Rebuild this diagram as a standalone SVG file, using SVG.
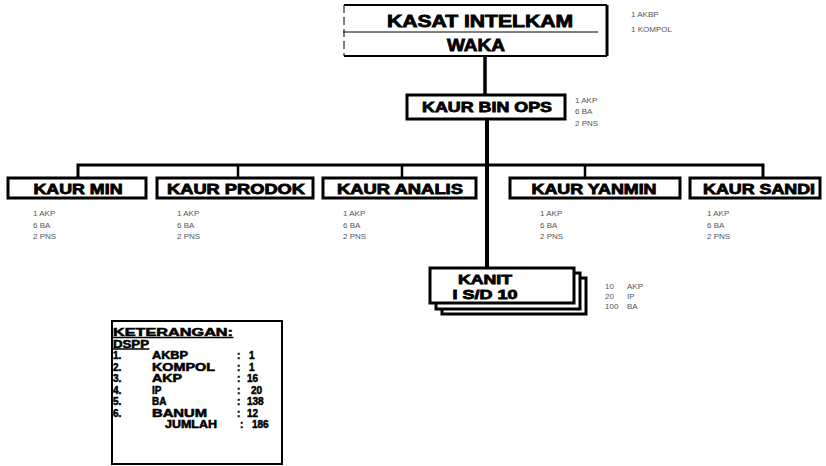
<svg xmlns="http://www.w3.org/2000/svg" width="826" height="466" viewBox="0 0 826 466">
<style>
.box{fill:#fff;stroke:#000;stroke-width:3}
.lbl{font-family:"Liberation Sans",Arial,sans-serif;font-weight:bold;fill:#000;stroke:#000;stroke-width:0.8;text-anchor:middle}
.sm{font-family:"Liberation Sans",Arial,sans-serif;font-size:8px;fill:#555}
.lg{font-family:"Liberation Sans",Arial,sans-serif;font-weight:bold;font-size:10px;fill:#000;stroke:#000;stroke-width:0.5}
.ln{stroke:#000;fill:none}
</style>
<rect width="826" height="466" fill="#fff"/>
<g id="connectors">
<line class="ln" x1="485" y1="56" x2="485" y2="95" stroke-width="3.5"/>
<line class="ln" x1="487" y1="119" x2="487" y2="268" stroke-width="4"/>
<polyline class="ln" points="78,178 78,165 763,165 763,178" stroke-width="3"/>
<line class="ln" x1="238" y1="165" x2="238" y2="178" stroke-width="2.5"/>
<line class="ln" x1="402" y1="165" x2="402" y2="178" stroke-width="2.5"/>
<line class="ln" x1="585" y1="165" x2="585" y2="178" stroke-width="2.5"/>
</g>
<g id="kasat">
<rect x="344" y="5" width="263" height="51" fill="#fff" stroke="none"/>
<line class="ln" x1="344" y1="5" x2="607" y2="5" stroke-width="2"/>
<line class="ln" x1="344" y1="56" x2="607" y2="56" stroke-width="2"/>
<line class="ln" x1="607" y1="5" x2="607" y2="56" stroke-width="3"/>
<line class="ln" x1="344" y1="5" x2="344" y2="56" stroke-width="1" stroke-dasharray="8 4"/>
<line class="ln" x1="343" y1="32" x2="598" y2="32" stroke-width="1" stroke="#555"/>
<text class="lbl" x="480" y="27" font-size="17" textLength="186" lengthAdjust="spacingAndGlyphs">KASAT INTELKAM</text>
<text class="lbl" x="476" y="51" font-size="17" textLength="58" lengthAdjust="spacingAndGlyphs">WAKA</text>
<text class="sm" x="631" y="17">1 AKBP</text>
<text class="sm" x="631" y="32">1 KOMPOL</text>
</g>
<g id="binops">
<rect class="box" x="407" y="95" width="158" height="24"/>
<text class="lbl" x="487" y="112" font-size="14" textLength="130" lengthAdjust="spacingAndGlyphs">KAUR BIN OPS</text>
<text class="sm" x="575" y="103">1 AKP</text>
<text class="sm" x="575" y="114">6 BA</text>
<text class="sm" x="575" y="126">2 PNS</text>
</g>
<g id="kaurmin">
<rect class="box" x="8" y="178" width="138" height="20"/>
<text class="lbl" x="78" y="194" font-size="14" textLength="89" lengthAdjust="spacingAndGlyphs">KAUR MIN</text>
<text class="sm" x="33" y="216">1 AKP</text>
<text class="sm" x="33" y="228">6 BA</text>
<text class="sm" x="33" y="239">2 PNS</text>
</g>
<g id="kaurprodok">
<rect class="box" x="157" y="178" width="156" height="20"/>
<text class="lbl" x="236" y="194" font-size="14" textLength="138" lengthAdjust="spacingAndGlyphs">KAUR PRODOK</text>
<text class="sm" x="177" y="216">1 AKP</text>
<text class="sm" x="177" y="228">6 BA</text>
<text class="sm" x="177" y="239">2 PNS</text>
</g>
<g id="kauranalis">
<rect class="box" x="323" y="178" width="153" height="20"/>
<text class="lbl" x="400" y="194" font-size="14" textLength="126" lengthAdjust="spacingAndGlyphs">KAUR ANALIS</text>
<text class="sm" x="343" y="216">1 AKP</text>
<text class="sm" x="343" y="228">6 BA</text>
<text class="sm" x="343" y="239">2 PNS</text>
</g>
<g id="kauryanmin">
<rect class="box" x="510" y="178" width="170" height="20"/>
<text class="lbl" x="594" y="194" font-size="14" textLength="125" lengthAdjust="spacingAndGlyphs">KAUR YANMIN</text>
<text class="sm" x="540" y="216">1 AKP</text>
<text class="sm" x="540" y="228">6 BA</text>
<text class="sm" x="540" y="239">2 PNS</text>
</g>
<g id="kaursandi">
<rect class="box" x="690" y="178" width="130" height="20"/>
<text class="lbl" x="759" y="194" font-size="14" textLength="112" lengthAdjust="spacingAndGlyphs">KAUR SANDI</text>
<text class="sm" x="707" y="216">1 AKP</text>
<text class="sm" x="707" y="228">6 BA</text>
<text class="sm" x="707" y="239">2 PNS</text>
</g>
<g id="kanit">
<rect class="box" x="442" y="278" width="144" height="36" stroke-width="2.5"/>
<rect class="box" x="436" y="273" width="144" height="36" stroke-width="2.5"/>
<rect class="box" x="430" y="268" width="144" height="35" stroke-width="2.5"/>
<text class="lbl" x="485" y="284" font-size="13" textLength="54" lengthAdjust="spacingAndGlyphs">KANIT</text>
<text class="lbl" x="485" y="299" font-size="13" textLength="65" lengthAdjust="spacingAndGlyphs">I S/D 10</text>
<text class="sm" x="605" y="289">10</text><text class="sm" x="627" y="289">AKP</text>
<text class="sm" x="605" y="299">20</text><text class="sm" x="627" y="299">IP</text>
<text class="sm" x="605" y="309">100</text><text class="sm" x="627" y="309">BA</text>
</g>
<g id="keterangan">
<rect x="112" y="321" width="170" height="143" fill="#fff" stroke="#000" stroke-width="2"/>
<text class="lg" x="113" y="336" textLength="120" lengthAdjust="spacingAndGlyphs" text-decoration="underline">KETERANGAN:</text>
<text class="lg" x="113" y="347.5" textLength="36" lengthAdjust="spacingAndGlyphs" text-decoration="underline">DSPP</text>
<text class="lg" x="113" y="359">1.</text><text class="lg" x="152" y="359" textLength="36" lengthAdjust="spacingAndGlyphs">AKBP</text><text class="lg" x="237" y="359">:</text><text class="lg" x="249" y="359">1</text>
<text class="lg" x="113" y="370.5">2.</text><text class="lg" x="152" y="370.5" textLength="63" lengthAdjust="spacingAndGlyphs">KOMPOL</text><text class="lg" x="237" y="370.5">:</text><text class="lg" x="249" y="370.5">1</text>
<text class="lg" x="113" y="382">3.</text><text class="lg" x="152" y="382" textLength="30" lengthAdjust="spacingAndGlyphs">AKP</text><text class="lg" x="237" y="382">:</text><text class="lg" x="247" y="382">16</text>
<text class="lg" x="113" y="393.5">4.</text><text class="lg" x="152" y="393.5">IP</text><text class="lg" x="237" y="393.5">:</text><text class="lg" x="251" y="393.5">20</text>
<text class="lg" x="113" y="405">5.</text><text class="lg" x="152" y="405">BA</text><text class="lg" x="237" y="405">:</text><text class="lg" x="247" y="405">138</text>
<text class="lg" x="113" y="416.5">6.</text><text class="lg" x="152" y="416.5" textLength="55" lengthAdjust="spacingAndGlyphs">BANUM</text><text class="lg" x="237" y="416.5">:</text><text class="lg" x="247" y="416.5">12</text>
<text class="lg" x="165" y="428" textLength="52" lengthAdjust="spacingAndGlyphs">JUMLAH</text><text class="lg" x="240" y="428">:</text><text class="lg" x="252" y="428">186</text>
</g>
</svg>
